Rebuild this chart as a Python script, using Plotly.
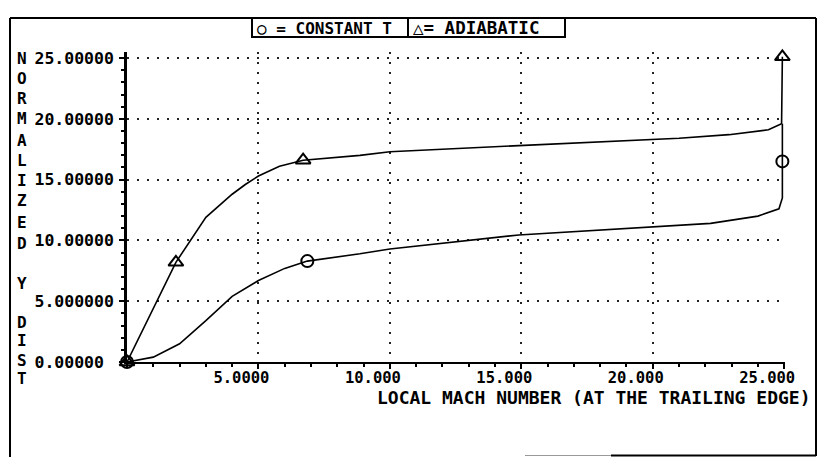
import plotly.graph_objects as go

# ---- data ----
mach_adiabatic = [0, 1.0, 1.86, 3.0, 4.0, 4.5, 5.0, 5.8, 6.7, 8.86, 10.0, 14.9, 19.9, 21.0, 22.9, 24.4, 24.9, 24.93]
ydist_adiabatic = [0, 4.4, 8.2, 11.9, 13.8, 14.6, 15.3, 16.1, 16.6, 17.0, 17.3, 17.8, 18.3, 18.4, 18.7, 19.1, 19.6, 25.1]

mach_const_t = [0, 1.0, 2.0, 3.0, 4.0, 5.0, 6.0, 6.86, 8.86, 10.0, 14.9, 19.9, 21.0, 22.2, 24.0, 24.8, 24.93, 24.93, 24.93]
ydist_const_t = [0, 0.4, 1.5, 3.4, 5.4, 6.7, 7.7, 8.3, 8.9, 9.3, 10.45, 11.1, 11.2, 11.4, 12.0, 12.6, 13.5, 16.5, 19.6]

marker_mach_adiabatic = [0, 1.86, 6.7, 24.93]
marker_y_adiabatic = [0, 8.2, 16.6, 25.1]
marker_mach_const_t = [0, 6.86, 24.93]
marker_y_const_t = [0, 8.3, 16.5]

x_tickvals = [5, 10, 15, 20, 25]
x_ticktext = ["5.0000", "10.000", "15.000", "20.000", "25.000"]
y_tickvals = [0, 5, 10, 15, 20, 25]
y_ticktext = ["0.00000\u00a0", "5.000000", "10.00000", "15.00000", "20.00000", "25.00000"]

x_title = "LOCAL MACH NUMBER (AT THE TRAILING EDGE)"
y_title = "NORMALIZED Y DIST"
legend_const = "\u25cb = CONSTANT T"
legend_adia = "\u25b3= ADIABATIC"

FONT = "DejaVu Sans Mono"
W, H = 818, 457
# plot area in window pixels
X0, X1, Y_TOP, Y_BOT = 127, 785, 52, 362
L, R, T, B = X0, W - X1, Y_TOP, H - Y_BOT
PW, PH = X1 - X0, Y_BOT - Y_TOP


def px(xpix):
    return (xpix - X0) / PW


def py(ypix):
    return (Y_BOT - ypix) / PH


fig = go.Figure()
fig.add_trace(go.Scatter(x=mach_const_t, y=ydist_const_t, mode="lines",
                         line=dict(color="black", width=1.6), cliponaxis=False,
                         showlegend=False))
fig.add_trace(go.Scatter(x=mach_adiabatic, y=ydist_adiabatic, mode="lines",
                         line=dict(color="black", width=1.6), cliponaxis=False,
                         showlegend=False))
fig.add_trace(go.Scatter(x=marker_mach_const_t, y=marker_y_const_t, mode="markers",
                         marker=dict(symbol="circle-open", size=12, color="black",
                                     line=dict(width=2)),
                         cliponaxis=False, showlegend=False))
fig.add_trace(go.Scatter(x=marker_mach_adiabatic, y=marker_y_adiabatic, mode="markers",
                         marker=dict(symbol="triangle-up-open", size=13, color="black",
                                     line=dict(width=2)),
                         cliponaxis=False, showlegend=False))

grid = dict(showgrid=True, gridcolor="#222", gridwidth=1.5, griddash="1.5px,8.5px")

fig.update_xaxes(range=[0, 25.03], tickvals=x_tickvals, ticktext=x_ticktext,
                 automargin=False,
                 showline=True, linecolor="black", linewidth=2,
                 ticks="outside", ticklen=5, tickcolor="black", tickwidth=1.5,
                 minor=dict(dtick=1, ticks="outside", ticklen=3, tickcolor="black", showgrid=False),
                 zeroline=False, ticklabelshift=-17, ticklabelstandoff=-5,
                 tickfont=dict(family=FONT, size=15.5, color="black", weight="bold"),
                 **grid)
fig.update_yaxes(range=[0, 25.5], tickvals=y_tickvals, ticktext=y_ticktext,
                 automargin=False,
                 showline=True, linecolor="black", linewidth=2.5,
                 ticks="outside", ticklen=5, tickcolor="black", tickwidth=1.5,
                 minor=dict(dtick=1, ticks="outside", ticklen=3, tickcolor="black", showgrid=False),
                 zeroline=False, ticklabelstandoff=2,
                 tickfont=dict(family=FONT, size=16.5, color="black", weight="bold"),
                 **grid)

shapes = []
line_k = dict(color="black", width=2)
# outer frame (left, top, right) and partial bottom
shapes.append(dict(type="line", xref="paper", yref="paper", x0=px(10), x1=px(10), y0=py(18), y1=py(457), line=line_k))
shapes.append(dict(type="line", xref="paper", yref="paper", x0=px(10), x1=px(816), y0=py(18), y1=py(18), line=line_k))
shapes.append(dict(type="line", xref="paper", yref="paper", x0=px(816), x1=px(816), y0=py(18), y1=py(456), line=line_k))
shapes.append(dict(type="line", xref="paper", yref="paper", x0=px(611), x1=px(816), y0=py(455.5), y1=py(455.5), line=line_k))
shapes.append(dict(type="line", xref="paper", yref="paper", x0=px(525), x1=px(611), y0=py(455.5), y1=py(455.5), line=dict(color="#999", width=1)))
# legend box
shapes.append(dict(type="rect", xref="paper", yref="paper", x0=px(252), x1=px(565), y0=py(18), y1=py(37), line=line_k))
shapes.append(dict(type="line", xref="paper", yref="paper", x0=px(408), x1=px(408), y0=py(18), y1=py(37), line=line_k))

annotations = []
annotations.append(dict(text=legend_const, xref="paper", yref="paper", x=px(255), y=py(28),
                        xanchor="left", yanchor="middle", showarrow=False,
                        font=dict(family=FONT, size=16, color="black", weight="bold")))
annotations.append(dict(text=legend_adia, xref="paper", yref="paper", x=px(411), y=py(28),
                        xanchor="left", yanchor="middle", showarrow=False,
                        font=dict(family=FONT, size=17.5, color="black", weight="bold")))
annotations.append(dict(text=x_title, xref="paper", yref="paper", x=px(593), y=py(397.5),
                        xanchor="center", yanchor="middle", showarrow=False,
                        font=dict(family=FONT, size=18, color="black", weight="bold")))
letter_y = [58, 78, 98, 118, 140, 160, 180, 200, 222, 243, None, 283, None, 322, 340, 360, 378]
for ch, yy in zip(y_title, letter_y):
    if ch == " " or yy is None:
        continue
    annotations.append(dict(text=ch, xref="paper", yref="paper", x=px(22), y=py(yy),
                            xanchor="center", yanchor="middle", showarrow=False,
                            font=dict(family=FONT, size=16, color="black", weight="bold")))

fig.update_layout(width=W, height=H, autosize=False,
                  margin=dict(l=L, r=R, t=T, b=B),
                  paper_bgcolor="white", plot_bgcolor="white",
                  shapes=shapes, annotations=annotations, showlegend=False)

fig.write_html("out.html", config={"displayModeBar": False},
               post_script="document.body.style.margin='0';document.body.style.overflow='hidden';")
